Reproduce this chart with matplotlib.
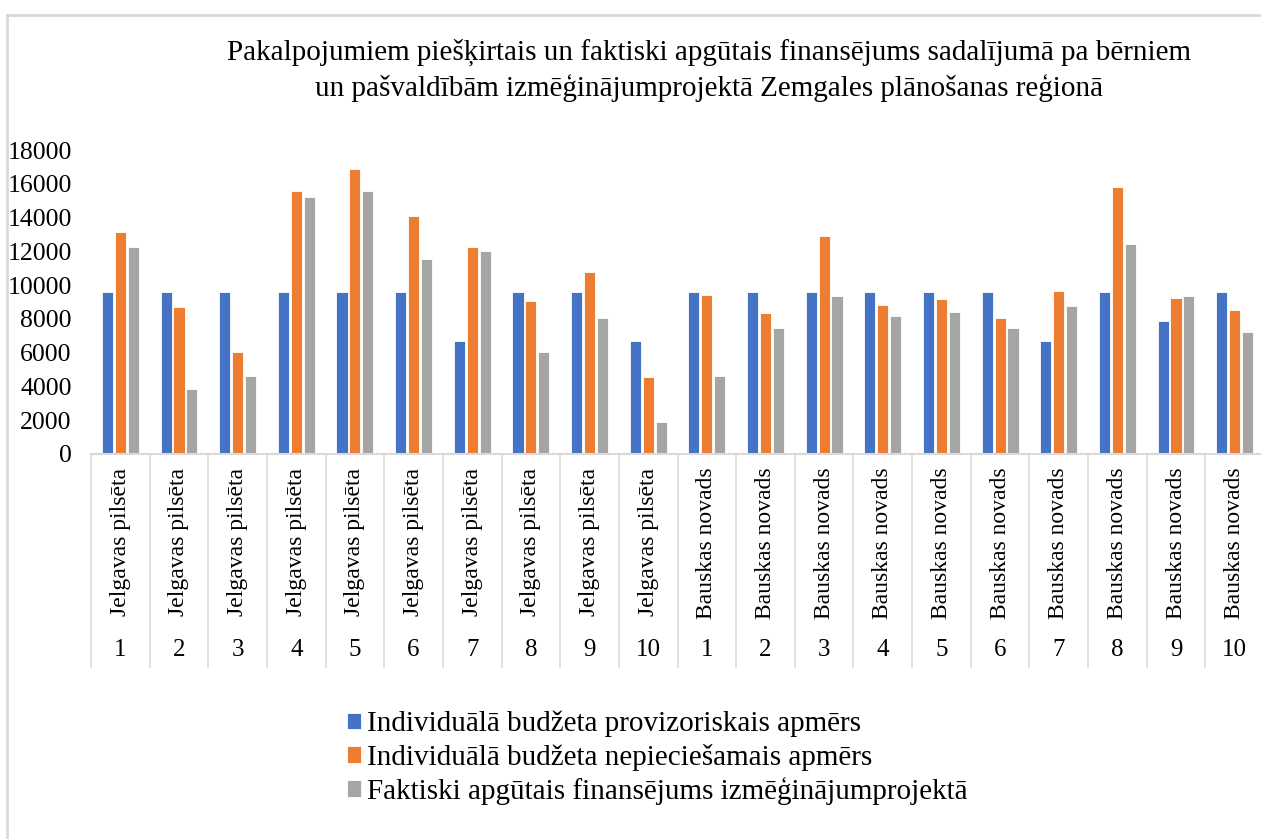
import numpy as np
import matplotlib.pyplot as plt
from matplotlib.lines import Line2D

plt.rcParams['font.family'] = ['Liberation Serif', 'DejaVu Serif']

# %% data
regions = ['Jelgavas pilsēta'] * 10 + ['Bauskas novads'] * 10
numbers = [str(i) for i in range(1, 11)] * 2

provizoriskais = [9600, 9600, 9600, 9600, 9600, 9600, 6720, 9600, 9600, 6720,
                  9600, 9600, 9600, 9600, 9600, 9600, 6720, 9600, 7850, 9600]
nepieciesamais = [13120, 8700, 6020, 15580, 16880, 14110, 12270, 9050, 10770, 4540,
                  9430, 8360, 12890, 8830, 9170, 8040, 9640, 15790, 9250, 8550]
apgutais = [12270, 3830, 4600, 15220, 15600, 11540, 12000, 6040, 8060, 1910,
            4620, 7450, 9370, 8160, 8400, 7450, 8750, 12430, 9370, 7230]

series = ['Individuālā budžeta provizoriskais apmērs',
          'Individuālā budžeta nepieciešamais apmērs',
          'Faktiski apgūtais finansējums izmēģinājumprojektā']
colors = ['#4472C4', '#ED7D31', '#A5A5A5']

# %% chart
W, H = 1261, 839
fig = plt.figure(figsize=(W / 100, H / 100), dpi=100)
ax = fig.add_axes([91 / W, 1 - 454 / H, 1173 / W, 304 / H])

x = np.arange(len(regions))
w = 0.19
step = 0.22
for k, vals in enumerate([provizoriskais, nepieciesamais, apgutais]):
    ax.bar(x + (k - 1) * step, vals, width=w, color=colors[k],
           edgecolor='white', linewidth=0.6, label=series[k])

ax.set_xlim(-0.5, len(regions) - 0.5)
ax.set_ylim(0, 18000)
ax.set_yticks(range(0, 18001, 2000))
ax.tick_params(axis='y', length=0, labelsize=18.5, pad=14)
ax.tick_params(axis='x', length=0, labelbottom=False)
for s in ['top', 'right', 'left']:
    ax.spines[s].set_visible(False)
ax.spines['bottom'].set_color('#D9D9D9')
ax.spines['bottom'].set_linewidth(1.5)

# multi-level category labels
trans = ax.get_xaxis_transform()
for i in range(len(regions)):
    ax.text(i, -0.045, regions[i], rotation=90, ha='center', va='top',
            fontsize=17, transform=trans, clip_on=False)
    ax.text(i, -0.645, numbers[i], ha='center', va='center',
            fontsize=18, transform=trans, clip_on=False)
for b in np.arange(-0.5, len(regions), 1.0):
    ax.add_line(Line2D([b, b], [0, -0.70], transform=trans, color='#D9D9D9',
                       linewidth=1.2, clip_on=False))

# title
fig.text(709 / W, 1 - 52 / H, 'Pakalpojumiem piešķirtais un faktiski apgūtais finansējums sadalījumā pa bērniem',
         ha='center', va='center', fontsize=21)
fig.text(709 / W, 1 - 88 / H, 'un pašvaldībām izmēģinājumprojektā Zemgales plānošanas reģionā',
         ha='center', va='center', fontsize=21)

# legend
handles, labels = ax.get_legend_handles_labels()
fig.legend(handles, labels, loc='upper left', bbox_to_anchor=(335 / W, 1 - 699 / H),
           frameon=False, fontsize=21, handlelength=0.5, handleheight=0.5,
           handletextpad=0.2, labelspacing=0.22, borderaxespad=0)

# chart area border
fig.add_artist(Line2D([7 / W, 7 / W], [0, 1 - 15 / H], color='#D9D9D9', linewidth=2))
fig.add_artist(Line2D([7 / W, 1], [1 - 15 / H, 1 - 15 / H], color='#D9D9D9', linewidth=2))

fig.savefig('out.png', dpi=100)
